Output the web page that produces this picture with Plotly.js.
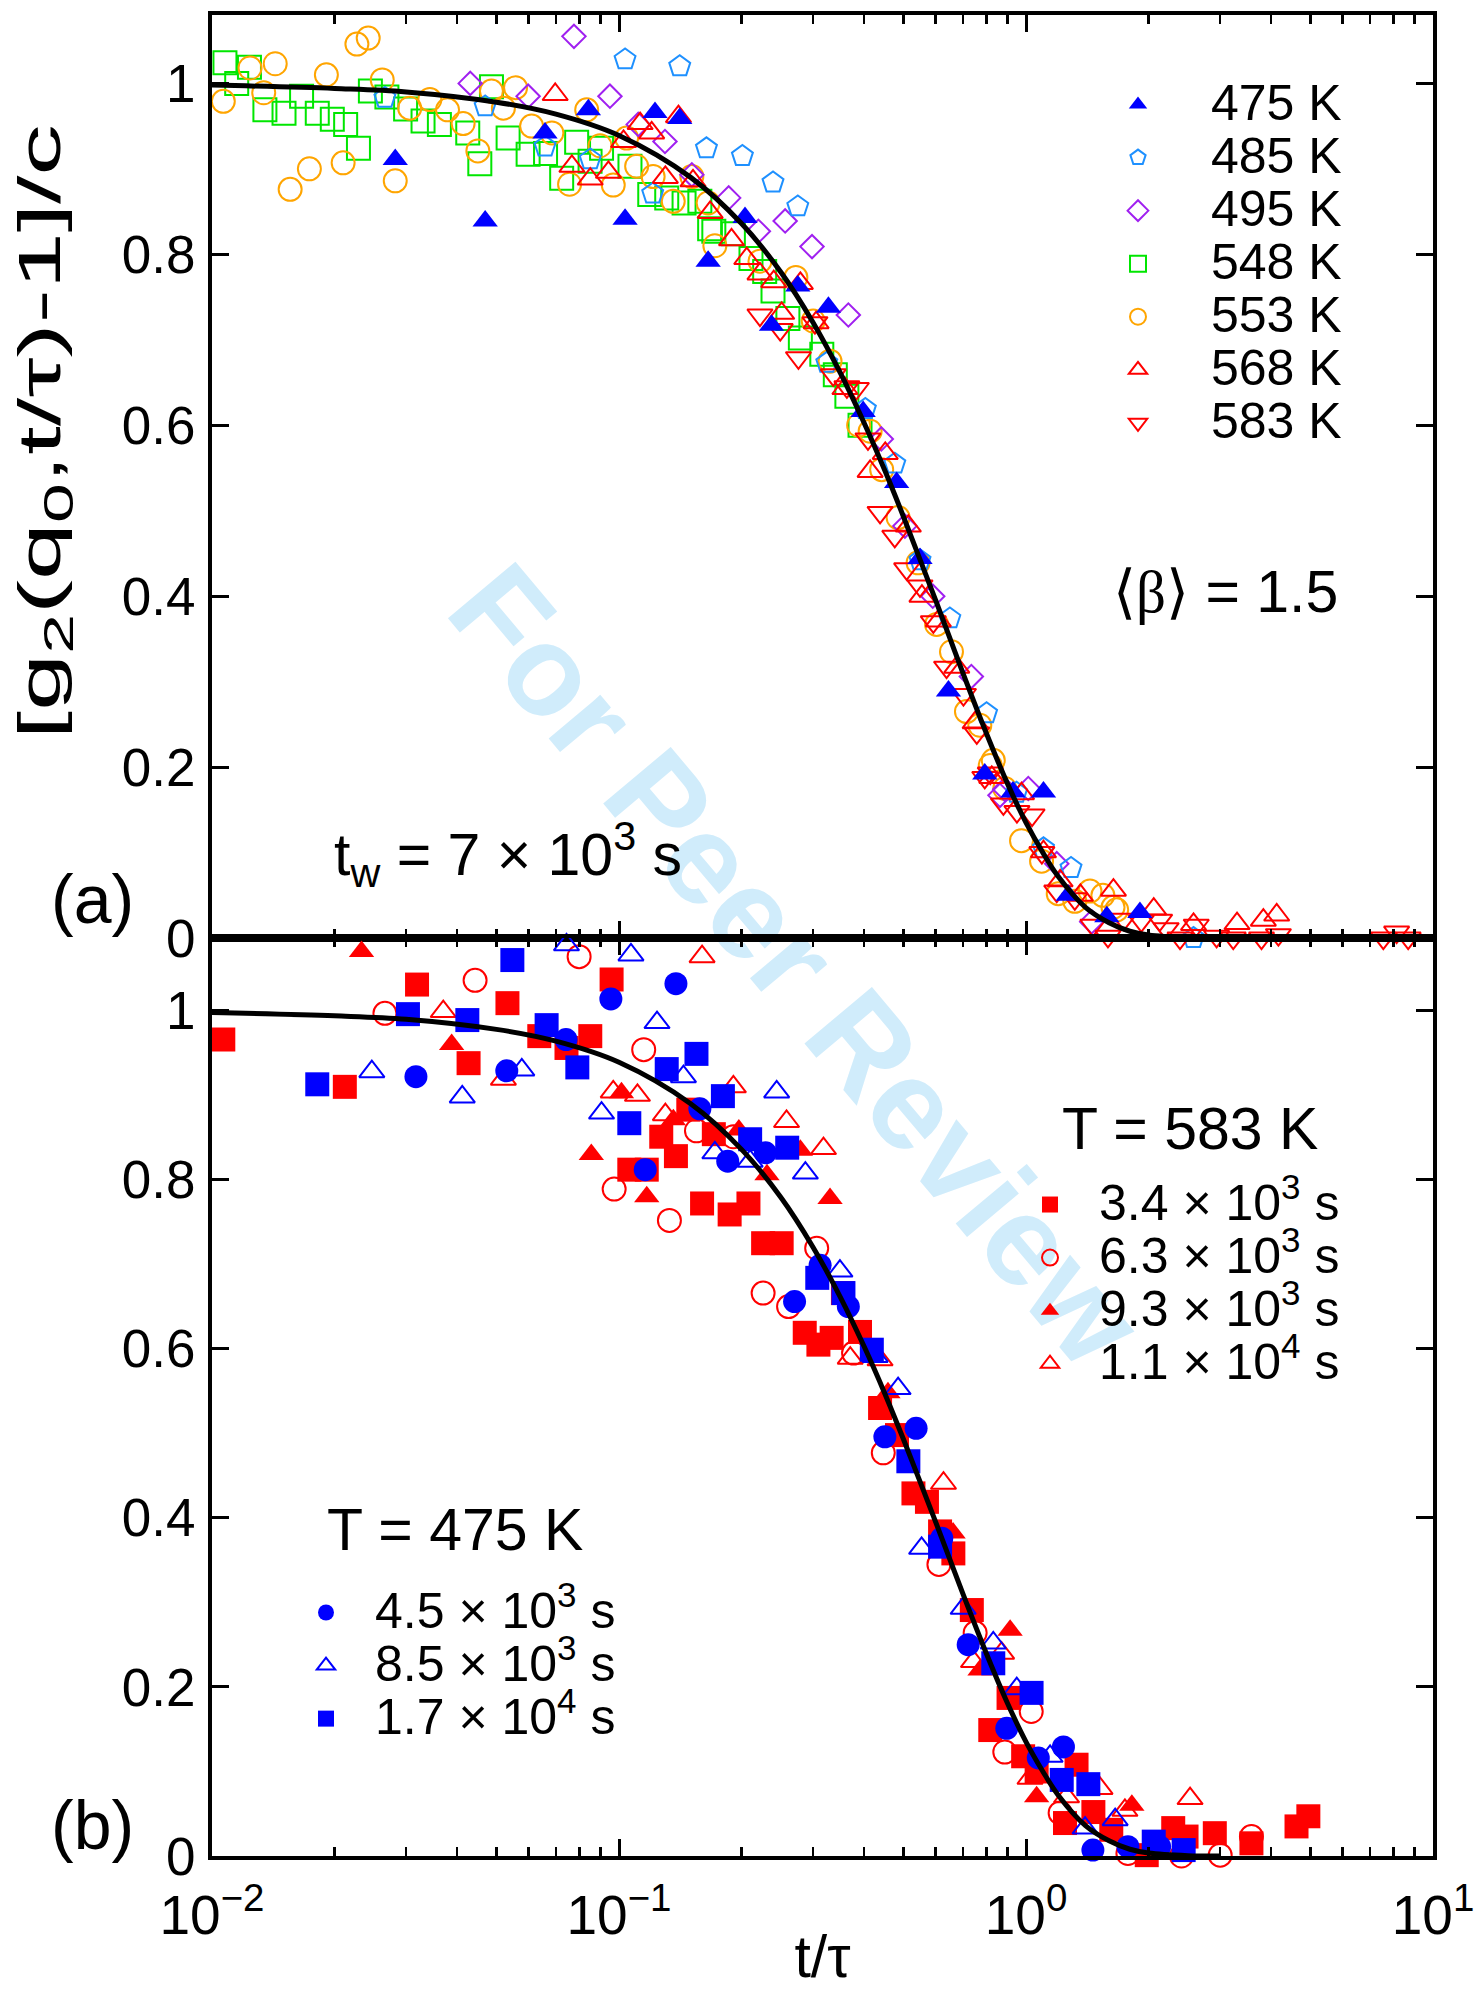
<!DOCTYPE html>
<html><head><meta charset="utf-8">
<script src="https://cdn.plot.ly/plotly-3.0.1.min.js"></script>
<style>html,body{margin:0;padding:0;background:#fff}</style>
</head><body><div id="chart" style="width:1483px;height:1990px"></div>
<script>
// ---------- panel (a): t_w = 7e3 s, different temperatures ----------
const a475_t = [0.0282,0.0469,0.0658,0.0841,0.1035,0.1226,0.141,0.1656,0.204,0.237,0.275,0.327,0.398,0.481,0.549,0.645,0.792,0.929,1.104,1.27,1.58,1.905];
const a475_g = [0.911,0.839,0.942,0.969,0.841,0.966,0.959,0.792,0.843,0.717,0.763,0.738,0.616,0.533,0.444,0.289,0.192,0.171,0.171,0.050,0.025,0.030];

const a485_t = [0.0266,0.0469,0.0658,0.085,0.1035,0.121,0.141,0.164,0.201,0.239,0.275,0.324,0.403,0.476,0.549,0.650,0.80,0.948,1.104,1.29,2.58];
const a485_g = [0.983,0.973,0.926,0.911,1.028,0.871,1.020,0.924,0.915,0.884,0.856,0.673,0.619,0.555,0.442,0.374,0.263,0.170,0.105,0.082,0.000];

const a495_t = [0.0431,0.0598,0.0775,0.095,0.1115,0.1297,0.151,0.186,0.220,0.256,0.298,0.366,0.441,0.504,0.590,0.734,0.863,0.887,1.013,1.19,1.45];
const a495_g = [1.000,0.985,1.055,0.985,0.952,0.932,0.893,0.866,0.827,0.839,0.809,0.729,0.584,0.482,0.400,0.306,0.167,0.174,0.175,0.087,0.019];

const a548_t = [0.00998,0.01076,0.0115,0.01236,0.01349,0.01503,0.0166,0.01814,0.01975,0.0213,0.0229,0.0245,0.0269,0.0299,0.0330,0.0362,0.0425,0.0455,0.0486,0.0534,0.0598,0.066,0.0723,0.0787,0.0849,0.0906,0.1064,0.119,0.131,0.1445,0.158,0.167,0.171,0.191,0.211,0.228,0.239,0.26,0.279,0.315,0.340,0.363,0.391];
const a548_g = [0.947,1.024,1.000,1.019,0.969,0.965,0.985,0.965,0.958,0.952,0.924,0.991,0.984,0.970,0.956,0.952,0.942,0.906,0.996,0.936,0.917,0.918,0.889,0.931,0.909,0.924,0.903,0.870,0.866,0.860,0.862,0.830,0.827,0.824,0.795,0.780,0.757,0.725,0.702,0.683,0.659,0.634,0.600];

const a553_t = [0.01066,0.0124,0.0134,0.0143,0.01556,0.01735,0.0191,0.0210,0.0227,0.0242,0.0262,0.0282,0.0306,0.0343,0.0379,0.0414,0.045,0.0486,0.052,0.0557,0.0610,0.0684,0.0756,0.0833,0.0898,0.0968,0.1044,0.1105,0.1213,0.1359,0.151,0.1656,0.172,0.222,0.272,0.300,0.330,0.388,0.414,0.442,0.485,0.543,0.603,0.656,0.714,0.770,0.817,0.831,0.887,0.975,1.092,1.20,1.318,1.436,1.545,1.636,1.67];
const a553_g = [0.979,1.018,0.989,1.023,0.876,0.900,1.010,0.907,1.046,1.053,1.004,0.886,0.971,0.981,0.969,0.953,0.921,0.991,0.971,0.995,0.950,0.942,0.882,0.969,0.927,0.881,0.936,0.903,0.891,0.862,0.891,0.860,0.810,0.792,0.773,0.722,0.675,0.600,0.593,0.548,0.492,0.439,0.367,0.335,0.265,0.249,0.202,0.208,0.175,0.114,0.090,0.052,0.043,0.055,0.050,0.036,0.033];

const a568_t = [0.0697,0.0766,0.085,0.0942,0.1026,0.1127,0.1203,0.130,0.140,0.152,0.1675,0.189,0.206,0.222,0.240,0.251,0.279,0.305,0.359,0.414,0.451,0.514,0.555,0.609,0.676,0.750,0.824,0.975,1.104,1.213,1.36,1.64,2.06,2.58,3.30,3.83,4.13];
const a568_g = [0.987,0.903,0.888,0.896,0.932,0.953,0.942,0.890,0.961,0.886,0.849,0.817,0.795,0.777,0.768,0.731,0.766,0.720,0.643,0.546,0.567,0.482,0.400,0.371,0.317,0.252,0.188,0.169,0.101,0.067,0.050,0.056,0.034,0.016,0.017,0.021,0.027];

const a583_t = [0.222,0.249,0.276,0.303,0.336,0.363,0.383,0.409,0.438,0.476,0.509,0.549,0.592,0.638,0.702,0.757,0.792,0.817,0.880,0.950,1.035,1.094,1.19,1.318,1.46,1.59,1.74,1.92,2.13,2.21,2.39,2.62,2.94,3.23,3.79,4.17,7.55,8.14,8.69];
const a583_g = [0.729,0.712,0.679,0.720,0.659,0.645,0.643,0.584,0.498,0.470,0.432,0.412,0.370,0.317,0.285,0.240,0.188,0.193,0.157,0.148,0.144,0.100,0.055,0.046,0.015,0.002,0.022,0.020,0.021,0.011,0.000,0.015,0.002,0.000,0.000,0.004,0.000,0.007,0.000];

// ---------- panel (b): different waiting times ----------
const b583_34e3_t = [0.01066,0.0212,0.0319,0.0427,0.0532,0.0637,0.0743,0.085,0.0959,0.106,0.117,0.127,0.138,0.148,0.16,0.171,0.187,0.208,0.226,0.251,0.286,0.309,0.333,0.355,0.391,0.438,0.482,0.529,0.571,0.615,0.663,0.736,0.817,0.906,0.984,1.062,1.247,1.331,1.464,1.62,1.98,2.30,2.48,2.91,3.58,4.62,4.94];
const b583_34e3_g = [0.966,0.910,1.031,0.938,1.009,0.970,0.956,0.970,1.037,0.812,0.812,0.851,0.828,0.883,0.772,0.854,0.759,0.772,0.725,0.725,0.619,0.605,0.613,0.666,0.620,0.530,0.498,0.429,0.419,0.384,0.358,0.291,0.149,0.187,0.118,0.100,0.039,0.108,0.052,0.031,0.001,0.033,0.023,0.027,0.015,0.035,0.047];

const b583_63e3_t = [0.0266,0.0443,0.0798,0.0973,0.115,0.133,0.155,0.191,0.226,0.261,0.306,0.377,0.446,0.611,0.75,0.887,1.03,1.213,1.78,2.41,3.0,3.58];
const b583_63e3_g = [0.997,1.036,1.064,0.789,0.954,0.752,0.858,0.851,0.666,0.650,0.719,0.595,0.477,0.345,0.264,0.123,0.171,0.051,0.003,0.000,0.001,0.023];

const b583_93e3_t = [0.0233,0.0388,0.0855,0.1014,0.117,0.136,0.197,0.231,0.279,0.330,0.458,0.662,0.771,0.914,1.062,1.82];
const b583_93e3_g = [1.070,0.960,0.830,0.903,0.780,0.871,0.859,0.806,0.835,0.778,0.548,0.382,0.220,0.267,0.070,0.060];

const b583_11e4_t = [0.037,0.052,0.0968,0.111,0.130,0.16,0.191,0.258,0.318,0.370,0.438,0.627,0.743,0.871,1.023,1.258,1.52,1.75,2.53];
const b583_11e4_g = [0.999,0.919,0.904,0.900,0.877,1.064,0.910,0.869,0.837,0.589,0.587,0.441,0.230,0.240,0.092,0.070,0.080,0.054,0.068];

const b475_45e3_t = [0.0317,0.053,0.0741,0.0955,0.116,0.138,0.158,0.185,0.229,0.270,0.312,0.366,0.450,0.537,0.621,0.721,0.897,1.072,1.236,1.46,1.78,2.13];
const b475_45e3_g = [0.922,0.929,0.966,1.014,0.812,1.032,0.884,0.822,0.832,0.656,0.699,0.650,0.496,0.506,0.376,0.250,0.151,0.116,0.129,0.007,0.011,0.011];

const b475_85e3_t = [0.0247,0.0412,0.0577,0.0743,0.0906,0.107,0.124,0.144,0.172,0.210,0.244,0.287,0.349,0.426,0.485,0.554,0.701,0.831,0.949,1.146,1.397,1.656];
const b475_85e3_g = [0.928,0.898,0.930,1.078,0.879,1.066,0.986,0.922,0.832,0.822,0.904,0.808,0.692,0.591,0.553,0.364,0.293,0.252,0.198,0.118,0.033,0.043];

const b475_17e4_t = [0.01814,0.0303,0.0424,0.0547,0.0664,0.079,0.106,0.131,0.155,0.180,0.210,0.259,0.307,0.356,0.418,0.514,0.615,0.831,1.032,1.224,1.423,2.06,2.44];
const b475_17e4_g = [0.913,0.996,0.989,1.060,0.983,0.933,0.867,0.931,0.949,0.899,0.848,0.838,0.684,0.666,0.599,0.467,0.366,0.228,0.193,0.090,0.085,0.017,0.007];

// ---------- fitted curve (compressed exponential, <beta> = 1.5) ----------
const fit_t = [0.01,0.02,0.03,0.05,0.07,0.1,0.15,0.2,0.25,0.3,0.35,0.4,0.45,0.5,0.55,0.6,0.65,0.7,0.8,0.9,1.0,1.1,1.2,1.4,1.6,1.8,2.0,2.5,3.0];
const fit_g = [0.998,0.994,0.990,0.978,0.964,0.939,0.890,0.836,0.779,0.720,0.661,0.603,0.547,0.493,0.442,0.395,0.351,0.310,0.239,0.181,0.135,0.100,0.072,0.036,0.018,0.008,0.0035,0.0004,0.0];

// ---------- labels ----------
const xTickVals = [0.01, 0.1, 1, 10];
const xTickText = ['10<sup>−2</sup>', '10<sup>−1</sup>', '10<sup>0</sup>', '10<sup>1</sup>'];
const legendA = ['475 K','485 K','495 K','548 K','553 K','568 K','583 K'];
const legend583 = ['3.4 × 10<sup>3</sup> s','6.3 × 10<sup>3</sup> s','9.3 × 10<sup>3</sup> s','1.1 × 10<sup>4</sup> s'];
const legend475 = ['4.5 × 10<sup>3</sup> s','8.5 × 10<sup>3</sup> s','1.7 × 10<sup>4</sup> s'];

const FONT = 'Liberation Sans, Arial, Helvetica, sans-serif';
const big = s => '<span style="font-size:50px">' + s + '</span>';

function pts(t, g, name, sym, color, size, open, xa, ya, leg, rank) {
  return {
    type: 'scatter', mode: 'markers', x: t, y: g, name: big(name),
    xaxis: xa, yaxis: ya, legend: leg, legendrank: rank, cliponaxis: false,
    marker: {symbol: sym, size: size, color: color,
             line: {width: open ? 2 : 0, color: color}},
    hoverinfo: 'x+y'
  };
}

const BLUE = '#0000ff', RED = '#ff0000', DBLUE = '#1e90ff', PURPLE = '#a020f0', GREEN = '#00e600', ORANGE = '#ffa500';

const traces = [
  pts(a548_t, a548_g, legendA[3], 'square-open', GREEN, 23, true, 'x', 'y', 'legend', 4),
  pts(a553_t, a553_g, legendA[4], 'circle-open', ORANGE, 23, true, 'x', 'y', 'legend', 5),
  pts(a495_t, a495_g, legendA[2], 'diamond-open', PURPLE, 18, true, 'x', 'y', 'legend', 3),
  pts(a485_t, a485_g, legendA[1], 'pentagon-open', DBLUE, 22, true, 'x', 'y', 'legend', 2),
  pts(a583_t, a583_g, legendA[6], 'triangle-down-open', RED, 22, true, 'x', 'y', 'legend', 7),
  pts(a568_t, a568_g, legendA[5], 'triangle-up-open', RED, 22, true, 'x', 'y', 'legend', 6),
  pts(a475_t, a475_g, legendA[0], 'triangle-up', BLUE, 22, false, 'x', 'y', 'legend', 1),
  {type:'scatter', mode:'lines', x: fit_t, y: fit_g, xaxis:'x', yaxis:'y', showlegend:false,
   line:{color:'#000', width:5, shape:'spline'}, hoverinfo:'skip'},

  pts(b583_34e3_t, b583_34e3_g, legend583[0], 'square', RED, 24, false, 'x2', 'y2', 'legend2', 1),
  pts(b583_63e3_t, b583_63e3_g, legend583[1], 'circle-open', RED, 23, true, 'x2', 'y2', 'legend2', 2),
  pts(b583_93e3_t, b583_93e3_g, legend583[2], 'triangle-up', RED, 22, false, 'x2', 'y2', 'legend2', 3),
  pts(b583_11e4_t, b583_11e4_g, legend583[3], 'triangle-up-open', RED, 22, true, 'x2', 'y2', 'legend2', 4),
  pts(b475_45e3_t, b475_45e3_g, legend475[0], 'circle', BLUE, 23, false, 'x2', 'y2', 'legend3', 1),
  pts(b475_85e3_t, b475_85e3_g, legend475[1], 'triangle-up-open', BLUE, 22, true, 'x2', 'y2', 'legend3', 2),
  pts(b475_17e4_t, b475_17e4_g, legend475[2], 'square', BLUE, 24, false, 'x2', 'y2', 'legend3', 3),
  {type:'scatter', mode:'lines', x: fit_t, y: fit_g, xaxis:'x2', yaxis:'y2', showlegend:false,
   line:{color:'#000', width:5, shape:'spline'}, hoverinfo:'skip'}
];

const minorVals = [];
[0.01, 0.1, 1].forEach(d => { for (let k = 2; k <= 9; k++) minorVals.push(d * k); });

const xCommon = {
  type: 'log', range: [-2, 1], showline: true, linewidth: 4, linecolor: '#000',
  mirror: 'ticks', ticks: 'inside', ticklen: 17, tickwidth: 3, tickcolor: '#000',
  tickmode: 'array', tickvals: xTickVals, ticktext: xTickText,
  minor: {tickmode: 'array', tickvals: minorVals, ticks: 'inside', ticklen: 9, tickwidth: 2.5, tickcolor: '#000', showgrid: false},
  showgrid: false, zeroline: false
};
const yCommon = {
  showline: true, linewidth: 4, linecolor: '#000', mirror: 'ticks',
  ticks: 'inside', ticklen: 17, tickwidth: 3, tickcolor: '#000',
  dtick: 0.2, tick0: 0, showgrid: false, zeroline: false,
  tickfont: {family: FONT, size: 53, color: '#000'}, ticklabelstandoff: 2
};

const P = (fx) => (fx - 212) / 1221;
const Q = (fy) => (1856 - fy) / 1841;

const layout = {
  width: 1483, height: 1990,
  margin: {l: 212, r: 50, t: 15, b: 134},
  paper_bgcolor: '#fff', plot_bgcolor: 'rgba(0,0,0,0)',
  font: {family: FONT, color: '#000'},
  xaxis: Object.assign({}, xCommon, {anchor: 'y', showticklabels: false}),
  xaxis2: Object.assign({}, xCommon, {anchor: 'y2', matches: 'x',
    tickfont: {family: FONT, size: 55, color: '#000'}, ticklabelstandoff: 8,
    title: {text: 't/τ', font: {family: FONT, size: 59, color: '#000'}, standoff: 8}}),
  yaxis: Object.assign({}, yCommon, {domain: [0.4986, 1], range: [0, 1.08], anchor: 'x'}),
  yaxis2: Object.assign({}, yCommon, {domain: [0, 0.4986], range: [0, 1.086], anchor: 'x2'}),
  legend: {x: P(1065), y: Q(73), xanchor: 'left', yanchor: 'top', itemwidth: 136,
           font: {family: FONT, size: 38.5, color: '#000'}, bgcolor: 'rgba(0,0,0,0)', tracegroupgap: 0},
  legend2: {x: P(1001), y: Q(1173), xanchor: 'left', yanchor: 'top', itemwidth: 88,
           font: {family: FONT, size: 38.5, color: '#000'}, bgcolor: 'rgba(0,0,0,0)', tracegroupgap: 0},
  legend3: {x: P(277), y: Q(1581), xanchor: 'left', yanchor: 'top', itemwidth: 88,
           font: {family: FONT, size: 38.5, color: '#000'}, bgcolor: 'rgba(0,0,0,0)', tracegroupgap: 0},
  shapes: [{
    type: 'line', xref: 'paper', yref: 'paper', layer: 'below',
    x0: P(494), y0: Q(700), x1: P(1008), y1: Q(1312),
    line: {color: 'rgba(0,0,0,0)', width: 1},
    label: {text: 'For Peer Review', textangle: 50, textposition: 'middle',
            font: {family: FONT, size: 128, color: 'rgb(208,236,251)', weight: 'bold'}}
  }],
  annotations: [
    {xref:'paper', yref:'paper', x: P(44), y: Q(432), text: '[g<sub>2</sub>(q<sub>0</sub>,t/τ)-1]/c',
     textangle: -90, showarrow: false, xanchor: 'center', yanchor: 'middle', font: {family: FONT, size: 60}},
    {xref:'paper', yref:'paper', x: P(92), y: Q(899), text: '(a)', showarrow: false,
     xanchor: 'center', yanchor: 'middle', font: {family: FONT, size: 68}},
    {xref:'paper', yref:'paper', x: P(92), y: Q(1825), text: '(b)', showarrow: false,
     xanchor: 'center', yanchor: 'middle', font: {family: FONT, size: 68}},
    {xref:'paper', yref:'paper', x: P(332), y: Q(854), text: 't<sub>w</sub> = 7 × 10<sup>3</sup> s', showarrow: false,
     xanchor: 'left', yanchor: 'middle', font: {family: FONT, size: 59}},
    {xref:'paper', yref:'paper', x: P(1111), y: Q(592),
     text: '<span style="font-family:Liberation Serif">⟨β⟩</span> = 1.5', showarrow: false,
     xanchor: 'left', yanchor: 'middle', font: {family: FONT, size: 59}},
    {xref:'paper', yref:'paper', x: P(1060), y: Q(1129), text: 'T = 583 K', showarrow: false,
     xanchor: 'left', yanchor: 'middle', font: {family: FONT, size: 59}},
    {xref:'paper', yref:'paper', x: P(325), y: Q(1530), text: 'T = 475 K', showarrow: false,
     xanchor: 'left', yanchor: 'middle', font: {family: FONT, size: 59}}
  ]
};

Plotly.newPlot('chart', traces, layout, {displayModeBar: false, staticPlot: true}).then(gd => {
  // the reference's rotated y title is drawn stretched along its length (~615 px long)
  const t = gd.querySelector('.annotation[data-index="0"] text.annotation-text');
  if (t) {
    const bb = t.getBBox();
    const s = 615 / bb.width;
    const cx = bb.x + bb.width / 2, cy = bb.y + bb.height / 2;
    t.setAttribute('transform', `translate(${cx},${cy}) scale(${s},1) translate(${-cx},${-cy})`);
  }
});
</script></body></html>
